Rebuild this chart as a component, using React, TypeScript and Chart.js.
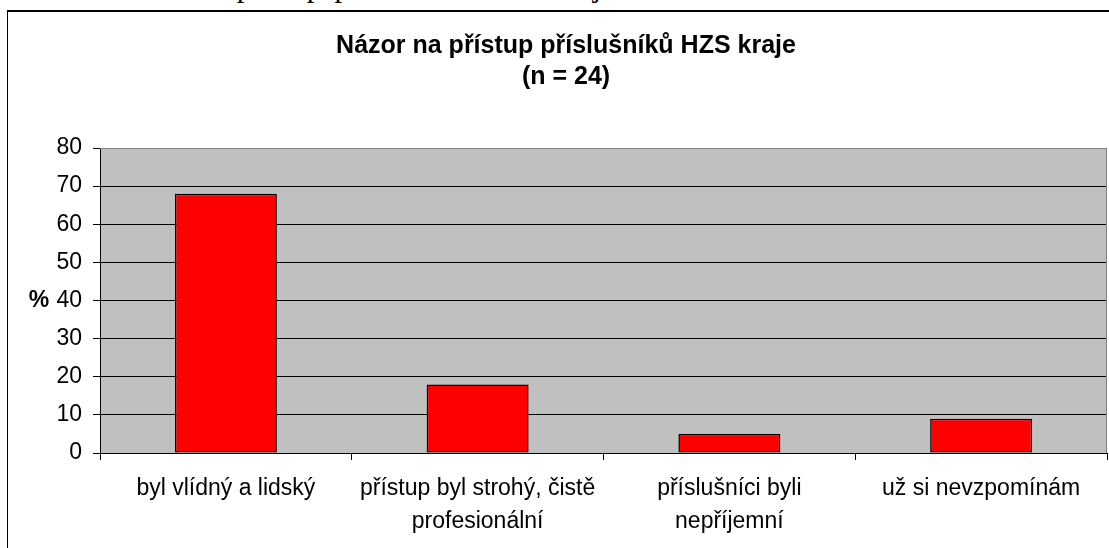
import React, { useEffect, useRef } from "react";
import { Chart, registerables } from "chart.js";

Chart.register(...registerables);

const categories: string[][] = [
  ["byl vlídný a lidský"],
  ["přístup byl strohý, čistě", "profesionální"],
  ["příslušníci byli", "nepříjemní"],
  ["už si nevzpomínám"],
];
const values: number[] = [68, 18, 5, 9];
const yTicks: number[] = [0, 10, 20, 30, 40, 50, 60, 70, 80];
const titleLines: string[] = ["Názor na přístup příslušníků HZS kraje", "(n = 24)"];
const yAxisTitle = "%";
const captionAbove = "Názor na přístup příslušníků HZS kraje";

const FONT = "'Liberation Sans', Arial, sans-serif";

export default function App() {
  const ref = useRef<HTMLCanvasElement | null>(null);

  useEffect(() => {
    if (!ref.current) return;
    const decor = {
      id: "decor",
      beforeDraw(chart: any) {
        const { ctx, chartArea } = chart;
        ctx.save();
        ctx.fillStyle = "#C0C0C0";
        ctx.fillRect(chartArea.left, chartArea.top, chartArea.right - chartArea.left, chartArea.bottom - chartArea.top);
        ctx.restore();
      },
      afterDatasetsDraw(chart: any) {
        const { ctx, chartArea } = chart;
        ctx.save();
        ctx.strokeStyle = "#808080";
        ctx.lineWidth = 1;
        ctx.beginPath();
        ctx.moveTo(chartArea.left, chartArea.top + 0.5);
        ctx.lineTo(chartArea.right - 0.5, chartArea.top + 0.5);
        ctx.lineTo(chartArea.right - 0.5, chartArea.bottom);
        ctx.stroke();
        ctx.restore();
      },
      afterDraw(chart: any) {
        const { ctx } = chart;
        ctx.save();
        ctx.fillStyle = "#000";
        ctx.textAlign = "center";
        ctx.textBaseline = "middle";
        ctx.font = `bold 25px ${FONT}`;
        ctx.fillText(titleLines[0], 566, 46);
        ctx.fillText(titleLines[1], 566, 77);
        ctx.font = `bold 23px ${FONT}`;
        const yScale = chart.scales.y;
        ctx.fillText(yAxisTitle, 39, yScale.getPixelForValue(40));
        ctx.restore();
      },
    };

    const chart = new Chart(ref.current, {
      type: "bar",
      data: {
        labels: categories,
        datasets: [
          {
            data: values,
            backgroundColor: "#FF0000",
            borderColor: "#000000",
            borderWidth: 1.5,
            borderSkipped: false,
            categoryPercentage: 1,
            barPercentage: 0.405,
          },
        ],
      },
      options: {
        animation: false,
        responsive: false,
        devicePixelRatio: 1,
        layout: { padding: { top: 148, left: 0, right: 2, bottom: 0 } },
        plugins: {
          legend: { display: false },
          title: { display: false },
          tooltip: { enabled: false },
        },
        scales: {
          x: {
            type: "category",
            offset: true,
            afterFit: (s: any) => {
              s.height = 95;
            },
            grid: {
              offset: true,
              drawOnChartArea: false,
              drawTicks: true,
              tickLength: 7,
              tickColor: "#000",
            },
            border: { display: true, color: "#000", width: 1 },
            ticks: {
              color: "#000",
              padding: 12,
              maxRotation: 0,
              autoSkip: false,
              font: { family: FONT, size: 23, lineHeight: "33px" },
            },
          },
          y: {
            min: 0,
            max: 80,
            afterFit: (s: any) => {
              s.width = 100;
            },
            afterBuildTicks: (s: any) => {
              s.ticks = yTicks.map((v) => ({ value: v }));
            },
            grid: {
              color: (c: any) => (c.tick && c.tick.value === 80 ? "#808080" : "#000"),
              lineWidth: 1,
              drawTicks: true,
              tickLength: 7,
              tickColor: "#000",
            },
            border: { display: true, color: "#000", width: 1 },
            ticks: {
              color: "#000",
              padding: 11,
              font: { family: FONT, size: 23 },
            },
          },
        },
      },
      plugins: [decor],
    } as any);
    return () => chart.destroy();
  }, []);

  return (
    <div
      style={{
        position: "fixed",
        left: 0,
        top: 0,
        width: 1109,
        height: 548,
        overflow: "hidden",
        background: "#fff",
      }}
    >
      <div
        style={{
          position: "absolute",
          left: 108,
          top: -29,
          fontFamily: "'Liberation Serif', 'Times New Roman', serif",
          fontSize: "30.7px",
          lineHeight: 1,
          wordSpacing: "4.8px",
          whiteSpace: "nowrap",
          color: "#000",
        }}
      >
        {captionAbove}
      </div>
      <div
        style={{
          position: "absolute",
          left: 7,
          top: 10,
          width: 1300,
          height: 800,
          borderTop: "2px solid #000",
          borderLeft: "1.5px solid #000",
        }}
      />
      <canvas
        ref={ref}
        width={1109}
        height={548}
        style={{ position: "absolute", left: 0, top: 0, width: 1109, height: 548 }}
      />
    </div>
  );
}
